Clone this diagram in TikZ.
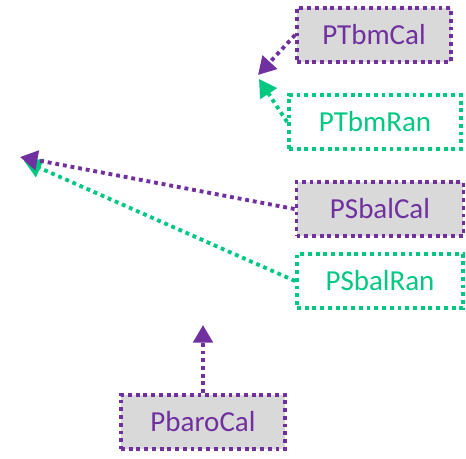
\documentclass[tikz,border=0pt]{standalone}
\usepackage{fontspec}
\setmainfont{Carlito}
\usetikzlibrary{arrows.meta}

\definecolor{calpurple}{RGB}{112,48,160}
\definecolor{rangreen}{RGB}{0,200,128}
\definecolor{calgray}{RGB}{217,217,217}

\tikzset{
  dotline/.style={line width=2.2pt, dash pattern=on 2.2pt off 2.2pt},
  calbox/.style={dotline, draw=calpurple, fill=calgray, text=calpurple,
    minimum height=1.08cm, inner sep=0pt, font=\fontsize{16.5}{18}\selectfont},
  ranbox/.style={dotline, draw=rangreen, text=rangreen,
    minimum height=1.08cm, inner sep=0pt, font=\fontsize{16.5}{18}\selectfont},
  calarrow/.style={dotline, draw=calpurple, -{Triangle[length=10pt,width=11pt]}},
  ranarrow/.style={dotline, draw=rangreen, -{Triangle[length=10pt,width=11pt]}},
}

\begin{document}
\begin{tikzpicture}[x=0.02cm, y=-0.02cm]
\useasboundingbox (0,0) rectangle (466,459);

	\node [calbox, minimum width=3.08cm] (tbmcal) at (374,35) {PTbmCal};
	\node [ranbox, minimum width=3.44cm] (tbmran) at (375,122) {PTbmRan};
	\node [calbox, minimum width=3.34cm] (sbalcal) at (380,209) {PSbalCal};
	\node [ranbox, minimum width=3.32cm] (sbalran) at (380,281) {PSbalRan};
	\node [calbox, minimum width=3.28cm] (barocal) at (203,422) {PbaroCal};

	\coordinate (tbmtip) at (258,75);
	\coordinate (tbmtip2) at (259,79);
	\coordinate (sbaltip) at (20,157);
	\coordinate (sbaltip2) at (24,161);
	\coordinate (barotip) at (203,325);

	\draw [ranarrow] (tbmran.west) -- (tbmtip2);
	\draw [calarrow] (tbmcal.west) -- (tbmtip);
	\draw [ranarrow] (sbalran.west) -- (sbaltip2);
	\draw [calarrow] (sbalcal.west) -- (sbaltip);
	\draw [calarrow] (barocal.north) -- (barotip);

\end{tikzpicture}
\end{document}
